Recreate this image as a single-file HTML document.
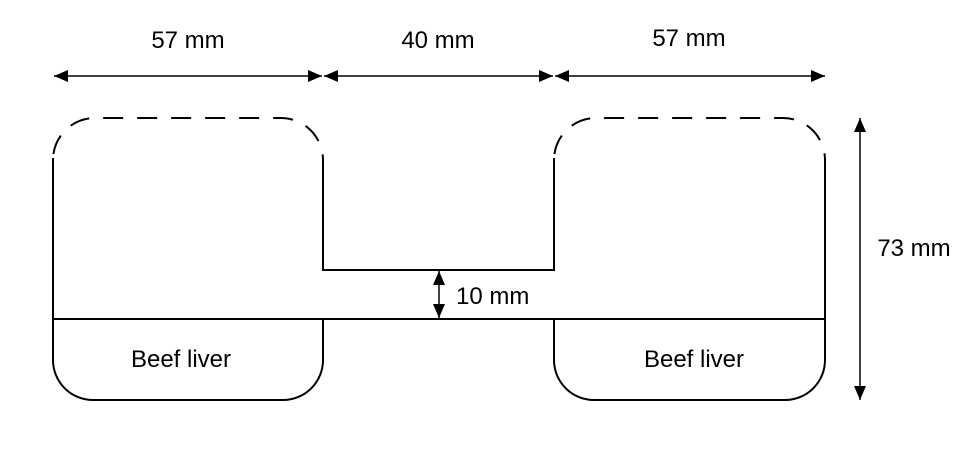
<!DOCTYPE html>
<html><head><meta charset="utf-8"><style>
html,body{margin:0;padding:0;background:#fff;}
svg{display:block;font-family:"Liberation Sans",Arial,sans-serif;}
</style></head><body>
<svg width="961" height="451" viewBox="0 0 961 451" xmlns="http://www.w3.org/2000/svg">
<defs>
<marker id="ah" viewBox="0 0 14 12" refX="14" refY="6" markerWidth="14" markerHeight="12" markerUnits="userSpaceOnUse" orient="auto-start-reverse">
<path d="M0,0 L14,6 L0,12 z" fill="#000"/>
</marker>
</defs>
<g stroke="#000" stroke-width="2" fill="none">
<g>
<path d="M53,319 V158 M323,270 V158" />
<path d="M53,160 A42,42 0 0 1 95,118 H281 A42,42 0 0 1 323,160" stroke-dasharray="20,14" stroke-dashoffset="-6"/>
<path d="M53,319 V360 A40,40 0 0 0 93,400 H283 A40,40 0 0 0 323,360 V319"/>
</g>
<g>
<path d="M554,270 V158 M825,319 V158" />
<path d="M554,160 A42,42 0 0 1 596,118 H783 A42,42 0 0 1 825,160" stroke-dasharray="20,14" stroke-dashoffset="-6"/>
<path d="M554,319 V360 A40,40 0 0 0 594,400 H785 A40,40 0 0 0 825,360 V319"/>
</g>
<path d="M322,270 H555"/>
<path d="M53,319 H825"/>
<g stroke-width="1.5">
<line x1="54" y1="76" x2="322" y2="76" marker-start="url(#ah)" marker-end="url(#ah)"/>
<line x1="324" y1="76" x2="553" y2="76" marker-start="url(#ah)" marker-end="url(#ah)"/>
<line x1="555" y1="76" x2="825" y2="76" marker-start="url(#ah)" marker-end="url(#ah)"/>
<line x1="860" y1="118" x2="860" y2="400" marker-start="url(#ah)" marker-end="url(#ah)"/>
<line x1="439" y1="271" x2="439" y2="318" marker-start="url(#ah)" marker-end="url(#ah)"/>
</g>
</g>
<g font-size="24" fill="#000">
<text x="188" y="48" text-anchor="middle">57 mm</text>
<text x="438" y="48" text-anchor="middle">40 mm</text>
<text x="689" y="46" text-anchor="middle">57 mm</text>
<text x="914" y="256" text-anchor="middle">73 mm</text>
<text x="456" y="304">10 mm</text>
<text x="181" y="367" text-anchor="middle">Beef liver</text>
<text x="694" y="367" text-anchor="middle">Beef liver</text>
</g>
</svg>
</body></html>
